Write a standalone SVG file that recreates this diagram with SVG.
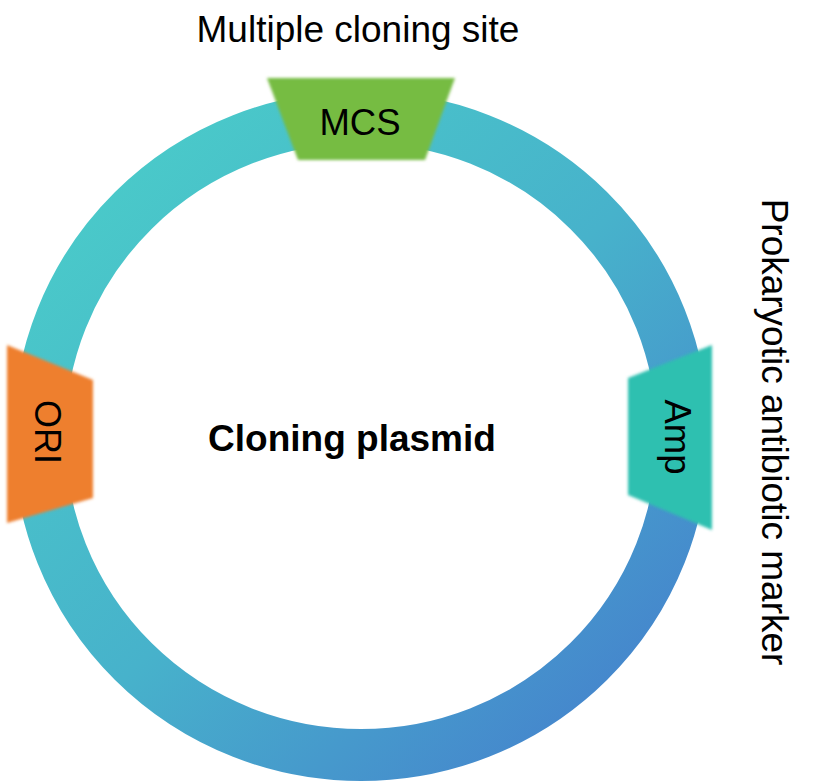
<svg xmlns="http://www.w3.org/2000/svg" width="814" height="784" viewBox="0 0 814 784">
  <style>
    .lbl { font-family: "Liberation Sans", Arial, sans-serif; fill: #000; }
  </style>
  <defs>
    <linearGradient id="ringGrad" gradientUnits="userSpaceOnUse" x1="100" y1="150" x2="650" y2="730">
      <stop offset="0" stop-color="#4ACBC9"/>
      <stop offset="0.5" stop-color="#47B2CB"/>
      <stop offset="1" stop-color="#4580CD"/>
    </linearGradient>
    <filter id="soft" x="-10%" y="-10%" width="120%" height="120%">
      <feGaussianBlur stdDeviation="1.4"/>
    </filter>
  </defs>
  <rect width="814" height="784" fill="#fff"/>
  <g id="plasmid">
    <ellipse cx="361" cy="436" rx="322" ry="319" fill="none" stroke="url(#ringGrad)" stroke-width="52"/>
    <text class="lbl" x="352" y="451" font-size="37" font-weight="bold" text-anchor="middle">Cloning plasmid</text>
  </g>
  <g id="mcs">
    <polygon points="267,78 455,78 425,160 298,160" fill="#76BC43" filter="url(#soft)"/>
    <text class="lbl" x="360" y="135" font-size="36.5" text-anchor="middle">MCS</text>
    <text class="lbl" x="358" y="42" font-size="37" text-anchor="middle">Multiple cloning site</text>
  </g>
  <g id="ori">
    <polygon points="7,345 93,380 93,498 7,523" fill="#EE7F2F" filter="url(#soft)"/>
    <text class="lbl" transform="translate(35,432) rotate(90)" font-size="36" text-anchor="middle">ORI</text>
  </g>
  <g id="amp">
    <polygon points="628,378 712,345 712,530 628,495" fill="#2EC0B0" filter="url(#soft)"/>
    <text class="lbl" transform="translate(665,437) rotate(90)" font-size="36.5" text-anchor="middle">Amp</text>
    <text class="lbl" transform="translate(762,432) rotate(90)" font-size="37" text-anchor="middle">Prokaryotic antibiotic marker</text>
  </g>
  <g id="connectors"></g>
</svg>
